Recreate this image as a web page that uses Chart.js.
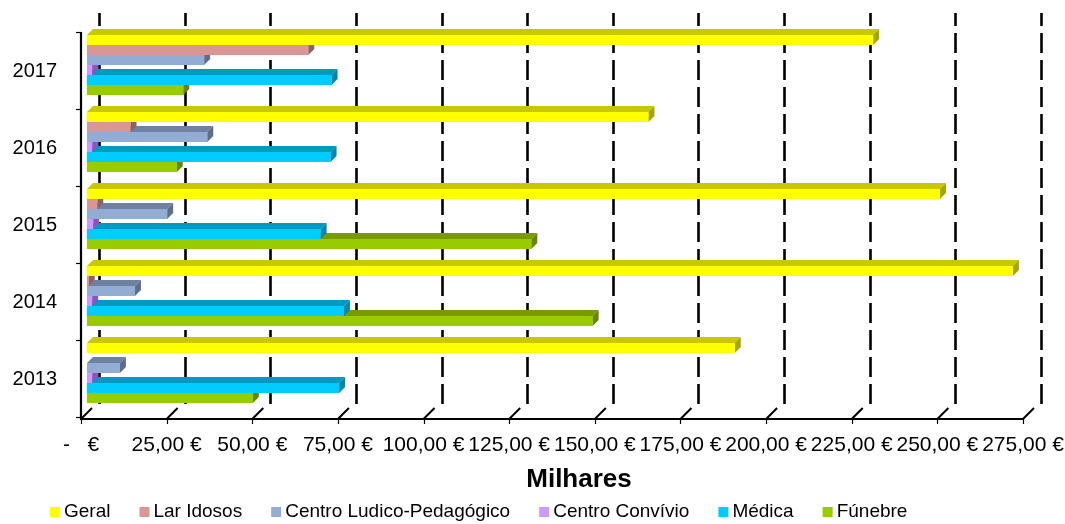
<!DOCTYPE html>
<html>
<head>
<meta charset="utf-8">
<script src="https://cdn.jsdelivr.net/npm/chart.js@4.4.1/dist/chart.umd.min.js"></script>
<style>
  html, body { margin: 0; padding: 0; background: #ffffff; }
  #wrap { width: 1065px; height: 524px; position: relative; }
</style>
</head>
<body>
<div id="wrap"><canvas id="c" width="1065" height="524"></canvas></div>
<script>
// ---- data ----
const categories = ['2017', '2016', '2015', '2014', '2013'];
const geral = [229.5, 163.9, 249.0, 270.3, 189.1];
const larIdosos = [64.6, 12.7, 3.0, 0.5, 0];
const centroLudico = [34.2, 35.1, 23.4, 14.0, 9.6];
const centroConvivio = [1.5, 1.5, 1.8, 1.5, 1.5];
const medica = [71.4, 71.1, 68.2, 75.0, 73.6];
const funebre = [28.1, 26.2, 129.7, 147.6, 48.4];
const seriesNames = ['Geral', 'Lar Idosos', 'Centro Ludico-Pedagógico', 'Centro Convívio', 'Médica', 'Fúnebre'];
const xTickLabels = ['-   €', '25,00 €', '50,00 €', '75,00 €', '100,00 €', '125,00 €', '150,00 €',
  '175,00 €', '200,00 €', '225,00 €', '250,00 €', '275,00 €'];
const axisTitle = 'Milhares';

// ---- styles ----
const frontColors = ['#FFFF00', '#D99694', '#93ACD4', '#CC99FF', '#00CCFF', '#99CC00'];
const topColors   = ['#C8C800', '#A87473', '#6F81A1', '#9966CC', '#0099C0', '#779B00'];
const sideColors  = ['#A6A600', '#8F6261', '#5E6E8A', '#8855BB', '#0088AA', '#668500'];
const FONT = '"Liberation Sans", Arial, sans-serif';
const DEPTH = 6;

const allSeries = [geral, larIdosos, centroLudico, centroConvivio, medica, funebre];

function zeroPad(scale) {
  scale.paddingTop = 0; scale.paddingBottom = 0;
  scale.paddingLeft = 0; scale.paddingRight = 0;
}

const threeD = {
  id: 'threeD',
  beforeDatasetsDraw(chart) {
    const ctx = chart.ctx;
    const xs = chart.scales.x, ys = chart.scales.y;
    const ca = chart.chartArea;
    ctx.save();
    // back wall dashed gridlines
    ctx.strokeStyle = '#000';
    ctx.lineWidth = 2.6;
    ctx.setLineDash([20, 7]);
    ctx.lineDashOffset = 7;
    xs.ticks.forEach(t => {
      const px = Math.round(xs.getPixelForValue(t.value) + 12) + 0.5;
      ctx.beginPath();
      ctx.moveTo(px, ca.top - 13.5);
      ctx.lineTo(px, ca.bottom - 7.5);
      ctx.stroke();
    });
    ctx.setLineDash([]);
    // floor slanted ticks
    ctx.lineWidth = 2;
    xs.ticks.forEach(t => {
      const fx = xs.getPixelForValue(t.value) - 6;
      ctx.beginPath();
      ctx.moveTo(fx, ca.bottom + 7.5);
      ctx.lineTo(fx + 11, ca.bottom - 3.5);
      ctx.stroke();
    });
    // front axes
    const x0 = xs.getPixelForValue(0) - 6;
    const x1 = xs.getPixelForValue(xs.max) - 6;
    const yb = ca.bottom + 7.5;
    const yt = ca.top + 5.5;
    ctx.lineWidth = 2.2;
    ctx.beginPath();
    ctx.moveTo(x0, yt);
    ctx.lineTo(x0, yb);
    ctx.lineTo(x1, yb);
    ctx.stroke();
    ctx.lineWidth = 1.2;
    // bottom tick marks
    xs.ticks.forEach(t => {
      const fx = Math.round(xs.getPixelForValue(t.value) - 6) + 0.5;
      ctx.beginPath();
      ctx.moveTo(fx, yb);
      ctx.lineTo(fx, yb + 5);
      ctx.stroke();
    });
    // left tick marks at category boundaries
    const n = ys.ticks.length;
    const step = (ca.bottom - ca.top) / n;
    for (let k = 0; k <= n; k++) {
      const yy = Math.round(ca.top + 5.5 + k * step) + 0.5;
      ctx.beginPath();
      ctx.moveTo(x0 - 5, yy);
      ctx.lineTo(x0, yy);
      ctx.stroke();
    }
    ctx.restore();
  },
  afterDatasetsDraw(chart) {
    const ctx = chart.ctx;
    ctx.save();
    for (let i = chart.data.datasets.length - 1; i >= 0; i--) {
      const meta = chart.getDatasetMeta(i);
      meta.data.forEach((bar, j) => {
        const v = chart.data.datasets[i].data[j];
        if (!v) return;
        const p = bar.getProps(['x', 'y', 'base', 'height'], true);
        const l = p.base, r = p.x, t = p.y - p.height / 2, b = p.y + p.height / 2;
        const d = DEPTH;
        ctx.fillStyle = topColors[i];
        ctx.beginPath();
        ctx.moveTo(l, t); ctx.lineTo(r, t); ctx.lineTo(r + d, t - d); ctx.lineTo(l + d, t - d);
        ctx.closePath(); ctx.fill();
        ctx.fillStyle = sideColors[i];
        ctx.beginPath();
        ctx.moveTo(r, t); ctx.lineTo(r + d, t - d); ctx.lineTo(r + d, b - d); ctx.lineTo(r, b);
        ctx.closePath(); ctx.fill();
        ctx.fillStyle = frontColors[i];
        ctx.fillRect(l, t, r - l, b - t);
      });
    }
    ctx.restore();
  },
  afterDraw(chart) {
    const ctx = chart.ctx;
    ctx.save();
    // axis title
    ctx.fillStyle = '#000';
    ctx.font = 'bold 26px ' + FONT;
    ctx.textAlign = 'center';
    ctx.textBaseline = 'middle';
    ctx.fillText(axisTitle, 579, 480);
    // legend
    ctx.font = '19px ' + FONT;
    ctx.textAlign = 'left';
    let x = 50;
    const yMid = 512;
    chart.data.datasets.forEach((ds, i) => {
      ctx.fillStyle = frontColors[i];
      ctx.fillRect(x, yMid - 5, 10, 10);
      x += 14;
      ctx.fillStyle = '#000';
      ctx.fillText(ds.label, x, yMid);
      x += ctx.measureText(ds.label).width + 29;
    });
    ctx.restore();
  }
};

new Chart(document.getElementById('c'), {
  type: 'bar',
  data: {
    labels: categories,
    datasets: allSeries.map((data, i) => ({
      label: seriesNames[i],
      data: data,
      backgroundColor: frontColors[i],
      borderWidth: 0,
      categoryPercentage: 0.78,
      barPercentage: 1.0
    }))
  },
  options: {
    indexAxis: 'y',
    responsive: false,
    animation: false,
    devicePixelRatio: 1,
    layout: { padding: { left: 0, right: 36, top: 26.5, bottom: 0 } },
    plugins: { legend: { display: false }, tooltip: { enabled: false }, title: { display: false } },
    scales: {
      x: {
        type: 'linear',
        min: 0, max: 275,
        grid: { display: false, drawTicks: false },
        border: { display: false },
        afterFit(scale) { scale.height = 112.5; zeroPad(scale); },
        ticks: {
          stepSize: 25,
          autoSkip: false,
          maxRotation: 0, minRotation: 0,
          padding: 21,
          labelOffset: -6,
          color: '#000',
          font: { family: FONT, size: 21 },
          callback: (value, index) => xTickLabels[index]
        }
      },
      y: {
        type: 'category',
        grid: { display: false, drawTicks: false },
        border: { display: false },
        afterFit(scale) { scale.width = 87; zeroPad(scale); },
        ticks: {
          padding: 30,
          labelOffset: 6.5,
          color: '#000',
          font: { family: FONT, size: 20 }
        }
      }
    }
  },
  plugins: [threeD]
});
</script>
</body>
</html>
